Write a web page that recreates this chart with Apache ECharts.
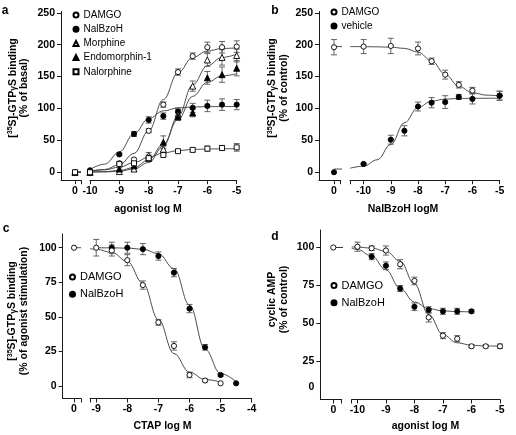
<!DOCTYPE html>
<html><head><meta charset="utf-8">
<script src="https://cdn.jsdelivr.net/npm/echarts@6/dist/echarts.min.js"></script>
<style>html,body{margin:0;padding:0;background:#fff}#c{width:516px;height:435px}</style>
</head><body><div id="c"></div>
<script>
// ---------- Panel a ----------
const aX = [0, -10, -9, -8.5, -8, -7.5, -7, -6.5, -6, -5.5, -5];
const aDAMGO = [0, 1, 14, 20, 65, 106, 157, 182, 196, 196, 197];
const aDAMGOSem = [0, 0, 2, 2, 3, 4, 5, 5, 8, 9, 9];
const aNalBzoH = [0, 3, 28, 60, 82, 88, 95, 101, 104, 106, 106];
const aNalBzoHSem = [0, 1, 2, 4, 5, 5, 6, 7, 9, 9, 8];
const aMorphine = [0, 0, 1, 5, 26, 36, 90, 135, 176, 180, 183];
const aMorphineSem = [0, 0, 1, 2, 5, 4, 8, 8, 10, 12, 10];
const aEndo = [0, 0, 5, 10, 22, 47, 87, 93, 148, 153, 163];
const aEndoSem = [0, 0, 2, 3, 5, 10, 6, 6, 10, 12, 12];
const aNalorphine = [0, 0, 13, 14, 22, 27, 33, 35, 37, 38, 39];
const aNalorphineSem = [0, 0, 2, 2, 2, 2, 2, 3, 4, 4, 6];
const aFitX = [0, -10, -9.5, -9, -8.5, -8, -7.5, -7, -6.5, -6, -5.5, -5];
const aFitDAMGO = [0, 1.6, 4.3, 11.7, 29.5, 65, 114, 156, 180, 190, 194, 195];
const aFitNalBzoH = [0, 4.4, 12.7, 31.8, 60.3, 84, 96.2, 100.7, 102.3, 102.8, 103, 103];
const aFitMorphine = [0, 0.2, 0.5, 1.6, 5.1, 15.2, 40.9, 87.7, 137, 167, 180, 185];
const aFitEndo = [0, 0.3, 0.9, 2.7, 7.4, 19.2, 44.3, 82.6, 119, 141, 151, 154.5];
const aFitNalorphine = [0, 1.6, 3.7, 8, 15.1, 23.5, 30.1, 33.9, 35.7, 36.4, 36.7, 36.9];

// ---------- Panel b ----------
const bX = [0, -10, -9, -8.5, -8, -7.5, -7, -6.5, -6, -5];
const bDAMGO = [196, 197, 198, null, 194, 174, 153, 137, 128, 120];
const bDAMGOSem = [12, 11, 12, null, 10, 5, 7, 5, 5, 7];
const bVehicle = [0, 13, 51, 65, 103, 109, 110, 118, 115, 120];
const bVehicleSem = [0, 1, 7, 8, 7, 8, 10, 4, 8, 7];
const bFitX = [0, -10.5, -10, -9.5, -9, -8.5, -8, -7.5, -7, -6.5, -6, -5.5, -5];
const bFitDAMGO = [197, 197, 196.9, 196.6, 196, 194.2, 188.3, 174.8, 153.5, 134.7, 124.7, 120.9, 119.6];
const bFitVehicle = [5, 6.3, 9.5, 19.5, 43.5, 77.5, 101.5, 111.5, 114.7, 115.6, 115.9, 116, 116];

// ---------- Panel c ----------
const cX = [0, -9, -8.5, -8, -7.5, -7, -6.5, -6, -5.5, -5, -4.5];
const cDAMGO = [100, 100, 98, 91, 73, 46, 29, 8, 4, 2, null];
const cDAMGOSem = [0, 6, 4, 4, 3, 2, 3, 2, 1, 0, null];
const cNalBzoH = [null, null, 100, 100, 99, 94, 82, 56, 28, 8, 2];
const cNalBzoHSem = [null, null, 4, 4, 4, 3, 3, 3, 2, 1, 0];
const cFitX = [0, -9.2, -9, -8.5, -8, -7.5, -7, -6.5, -6, -5.5, -5, -4.5];
const cFitDAMGO = [100, 99.3, 98.9, 96.6, 90.1, 74.3, 48.1, 23.5, 10.0, 4.7, 2.9, null];
const cFitNalBzoH = [null, null, 100, 99.9, 99.7, 98.9, 95.7, 84.9, 58.6, 26.6, 9, 3.1];

// ---------- Panel d ----------
const dX = [0, -10, -9.5, -9, -8.5, -8, -7.5, -7, -6.5, -6, -5.5, -5];
const dDAMGO = [100, 100.5, 99.5, 98, 89, 78, 54, 42, 40, 35, 35, 35];
const dDAMGOSem = [0, 3, 1.5, 3, 3, 2.5, 3, 2, 2, 1, 1, 1.5];
const dNalBzoH = [null, null, 94, 88, 73, 61, 59, 58, 58, 58, null, null];
const dNalBzoHSem = [null, null, 2, 2.5, 2, 2.5, 2, 2, 2, 1, null, null];
const dFitX = [0, -10.2, -10, -9.5, -9, -8.5, -8, -7.5, -7, -6.5, -6, -5.5, -5];
const dFitDAMGO = [100, 100.35, 100.25, 99.6, 97.5, 91, 75.9, 55.9, 42.6, 37.3, 35.7, 35.2, 35.1];
const dFitNalBzoH = [100, 99.5, 98.7, 94.4, 85.3, 73.1, 64.1, 59.8, 58.3, 57.8, 57.6, null, null];

// ---------- Tick labels ----------
const abYTicks = [0, 50, 100, 150, 200, 250];
const cYTicks = [0, 25, 50, 75, 100];
const dYTicks = [25, 50, 75, 100];
const dZeroLabelAt = 8.3;   // panel d prints its "0" label above the x axis line
const abdXTicks = [-10, -9, -8, -7, -6, -5];
const cXTicks = [-9, -8, -7, -6, -5, -4];

const F = "'Liberation Sans', Arial, Helvetica, sans-serif";
const AX = '#1a1a1a';
const grids = [], xAxes = [], yAxes = [], series = [];
const SYM = {
  openCircle: {symbol: 'circle', size: 5.2, fill: '#fff'},
  filledCircle: {symbol: 'circle', size: 5.2, fill: '#000'},
  openTri: {symbol: 'triangle', size: 6, fill: '#fff'},
  filledTri: {symbol: 'triangle', size: 6, fill: '#000'},
  openSq: {symbol: 'rect', size: 5, fill: '#fff'}
};

function addPanel(p) {
  const gi = grids.length;
  grids.push({left: p.sL, top: p.top, width: p.sW, height: p.h});
  grids.push({left: p.mL, top: p.top, width: p.mW, height: p.h});
  const lab = {fontSize: 10.5, fontWeight: 'bold', color: '#000', fontFamily: F, margin: 5};
  xAxes.push({gridIndex: gi, type: 'value', min: p.sMin, max: p.sMax,
    axisLine: {show: true, onZero: false, lineStyle: {color: AX, width: 1}},
    axisTick: {show: true, customValues: [0, p.sMax], length: 4, lineStyle: {color: AX}},
    axisLabel: Object.assign({customValues: [0]}, lab), splitLine: {show: false}});
  const mt = [p.mMin].concat(p.xTicks.filter(v => v !== p.mMin));
  xAxes.push({gridIndex: gi + 1, type: 'value', min: p.mMin, max: p.mMax,
    axisLine: {show: true, onZero: false, lineStyle: {color: AX, width: 1}},
    axisTick: {show: true, customValues: mt, length: 4, lineStyle: {color: AX}},
    axisLabel: Object.assign({customValues: p.xTicks}, lab), splitLine: {show: false}});
  const yl = p.yLabels || p.yTicks;
  yAxes.push({gridIndex: gi, type: 'value', min: p.yMin, max: p.yMax,
    axisLine: {show: true, onZero: false, lineStyle: {color: AX, width: 1}},
    axisTick: {show: true, customValues: p.yTicks, length: 4, lineStyle: {color: AX}},
    axisLabel: Object.assign({}, lab, {customValues: yl, margin: 6,
      formatter: v => (p.yLabelText && p.yLabelText[v] !== undefined) ? p.yLabelText[v] : String(v)}),
    splitLine: {show: false}});
  yAxes.push({gridIndex: gi + 1, type: 'value', min: p.yMin, max: p.yMax, show: false, splitLine: {show: false}});

  const k = p.sW / (p.sMax - p.sMin);
  p.curves.forEach(c => {
    const small = [], main = [];
    c.x.forEach((x, i) => {
      const y = c.y[i];
      if (y == null) return;
      if (x === 0) small.push([0, y]); else main.push([x, y]);
    });
    const ls = {color: '#3a3a3a', width: 0.9};
    if (small.length) {
      const endX = p.bridge ? p.sMin + (p.mL - p.sL) / k : p.sMax;
      small.push([endX, small[0][1]]);
      series.push({type: 'line', xAxisIndex: gi, yAxisIndex: gi, data: small, showSymbol: false,
        clip: false, silent: true, lineStyle: ls, z: 2, animation: false});
    }
    series.push({type: 'line', xAxisIndex: gi + 1, yAxisIndex: gi + 1, data: main, smooth: 0.4,
      smoothMonotone: 'x', showSymbol: false, clip: false, silent: true, lineStyle: ls, z: 2, animation: false});
  });

  p.points.forEach(s => {
    const sm = {s: [], m: [], es: [], em: []};
    s.x.forEach((x, i) => {
      const y = s.y[i];
      if (y == null) return;
      const e = s.sem ? s.sem[i] : 0;
      (x === 0 ? sm.s : sm.m).push([x, y]);
      if (e > 0) (x === 0 ? sm.es : sm.em).push([x, y, e]);
    });
    [[gi, sm.s, sm.es], [gi + 1, sm.m, sm.em]].forEach(([ix, pts, errs]) => {
      if (errs.length) series.push({type: 'custom', xAxisIndex: ix, yAxisIndex: ix, data: errs,
        encode: {x: 0, y: 1}, clip: false, silent: true, z: 3, animation: false,
        renderItem: (params, api) => {
          const x = api.value(0), y = api.value(1), e = api.value(2);
          const a = api.coord([x, y + e]), b = api.coord([x, y - e]);
          const w = 3, st = {stroke: '#555', lineWidth: 0.9};
          return {type: 'group', children: [
            {type: 'line', shape: {x1: a[0], y1: a[1], x2: b[0], y2: b[1]}, style: st},
            {type: 'line', shape: {x1: a[0] - w, y1: a[1], x2: a[0] + w, y2: a[1]}, style: st},
            {type: 'line', shape: {x1: b[0] - w, y1: b[1], x2: b[0] + w, y2: b[1]}, style: st}
          ]};
        }});
      if (pts.length) series.push({type: 'scatter', name: s.name, xAxisIndex: ix, yAxisIndex: ix, data: pts,
        symbol: s.sym.symbol, symbolSize: s.sym.size, clip: false, z: 5, animation: false,
        itemStyle: {color: s.sym.fill, borderColor: '#000', borderWidth: 0.9, opacity: 1}});
    });
  });
}

addPanel({sL: 61, sW: 20, sMin: -1.4, sMax: 0.6, mL: 90, mW: 146.7, mMin: -10, mMax: -5,
  top: 11.5, h: 168.7, yMin: -12.5, yMax: 252, yTicks: abYTicks, xTicks: abdXTicks, bridge: false,
  curves: [{x: aFitX, y: aFitDAMGO}, {x: aFitX, y: aFitNalBzoH}, {x: aFitX, y: aFitMorphine},
           {x: aFitX, y: aFitEndo}, {x: aFitX, y: aFitNalorphine}],
  points: [
    {name: 'DAMGO', x: aX, y: aDAMGO, sem: aDAMGOSem, sym: SYM.openCircle},
    {name: 'NalBzoH', x: aX, y: aNalBzoH, sem: aNalBzoHSem, sym: SYM.filledCircle},
    {name: 'Morphine', x: aX, y: aMorphine, sem: aMorphineSem, sym: SYM.openTri},
    {name: 'Endomorphin-1', x: aX, y: aEndo, sem: aEndoSem, sym: SYM.filledTri},
    {name: 'Nalorphine', x: aX, y: aNalorphine, sem: aNalorphineSem, sym: SYM.openSq}
  ]});
addPanel({sL: 319, sW: 21.7, sMin: -1.5, sMax: 0.67, mL: 350, mW: 149.6, mMin: -10.5, mMax: -5,
  top: 11.5, h: 168.7, yMin: -12.5, yMax: 252, yTicks: abYTicks, xTicks: abdXTicks, bridge: true,
  curves: [{x: bFitX, y: bFitDAMGO}, {x: bFitX, y: bFitVehicle}],
  points: [
    {name: 'DAMGO', x: bX, y: bDAMGO, sem: bDAMGOSem, sym: SYM.openCircle},
    {name: 'vehicle', x: bX, y: bVehicle, sem: bVehicleSem, sym: SYM.filledCircle}
  ]});
addPanel({sL: 62.7, sW: 18.3, sMin: -1.13, sMax: 0.7, mL: 90, mW: 161.7, mMin: -9.2, mMax: -4,
  top: 233.9, h: 164.6, yMin: -9, yMax: 110, yTicks: cYTicks, xTicks: cXTicks, bridge: false,
  curves: [{x: cFitX, y: cFitDAMGO}, {x: cFitX, y: cFitNalBzoH}],
  points: [
    {name: 'NalBzoH', x: cX, y: cNalBzoH, sem: cNalBzoHSem, sym: SYM.filledCircle},
    {name: 'DAMGO', x: cX, y: cDAMGO, sem: cDAMGOSem, sym: SYM.openCircle}
  ]});
addPanel({sL: 320.3, sW: 21.4, sMin: -1.3, sMax: 0.84, mL: 351.7, mW: 148.3, mMin: -10.2, mMax: -5,
  top: 230, h: 169.5, yMin: 0, yMax: 111.5, yTicks: dYTicks, xTicks: abdXTicks, bridge: true,
  yLabels: [dZeroLabelAt].concat(dYTicks), yLabelText: {[dZeroLabelAt]: '0'},
  curves: [{x: dFitX, y: dFitDAMGO}, {x: dFitX, y: dFitNalBzoH}],
  points: [
    {name: 'NalBzoH', x: dX, y: dNalBzoH, sem: dNalBzoHSem, sym: SYM.filledCircle},
    {name: 'DAMGO', x: dX, y: dDAMGO, sem: dDAMGOSem, sym: SYM.openCircle}
  ]});

function legend(left, top, names, fs, gap, lh) {
  return {orient: 'vertical', left: left, top: top, itemWidth: 5, itemHeight: 5, itemGap: gap,
    selectedMode: false, data: names, padding: 0,
    textStyle: {fontSize: fs, color: '#000', fontFamily: F, lineHeight: lh}};
}

const rich = {
  t: {fontSize: 10.5, fontWeight: 'bold', fontFamily: F, fill: '#000', lineHeight: 11.5},
  s: {fontSize: 7, fontWeight: 'bold', fontFamily: F, fill: '#000', lineHeight: 7, verticalAlign: 'top'},
  g: {fontSize: 8.5, fontWeight: 'bold', fontFamily: F, fill: '#000', lineHeight: 9, verticalAlign: 'bottom'}
};
function ytitle(x, y, l1, l2) {
  return {type: 'text', x: x, y: y, rotation: Math.PI / 2,
    style: {text: l1 + '\n{t|' + l2 + '}', rich: rich, align: 'center', verticalAlign: 'middle'}};
}
function txt(x, y, s, fs) {
  return {type: 'text', x: x, y: y, style: {text: s, font: 'bold ' + fs + 'px ' + F, fill: '#000',
    align: 'center', verticalAlign: 'middle'}};
}
const gtp = '{t|[}{s|35}{t|S]-GTP}{g|γ}{t|S binding}';

const option = {
  animation: false,
  grid: grids, xAxis: xAxes, yAxis: yAxes, series: series,
  legend: [
    legend(72.5, 9, ['DAMGO', 'NalBzoH', 'Morphine', 'Endomorphin-1', 'Nalorphine'], 10, 2.2, 12),
    legend(330.5, 6, ['DAMGO', 'vehicle'], 10, 2, 12),
    legend(69, 270.5, ['DAMGO', 'NalBzoH'], 11, 4.3, 13),
    legend(330.5, 279, ['DAMGO', 'NalBzoH'], 11, 4.3, 13)
  ],
  graphic: [
    txt(5, 11, 'a', 12), txt(275, 11, 'b', 12), txt(6, 229, 'c', 12), txt(275, 237, 'd', 12),
    ytitle(18.5, 88, gtp, '(% of basal)'),
    ytitle(278, 88, gtp, '(% of control)'),
    ytitle(18, 311, gtp, '(% of agonist stimulation)'),
    ytitle(278, 299.5, '{t|cyclic AMP}', '(% of control)'),
    txt(148, 209.5, 'agonist log M', 10.5),
    txt(403, 209.5, 'NalBzoH logM', 10.5),
    txt(162.5, 426, 'CTAP log M', 10.5),
    txt(425.5, 426, 'agonist log M', 10.5)
  ]
};
const chart = echarts.init(document.getElementById('c'), null, {renderer: 'canvas'});
chart.setOption(option);
</script></body></html>
